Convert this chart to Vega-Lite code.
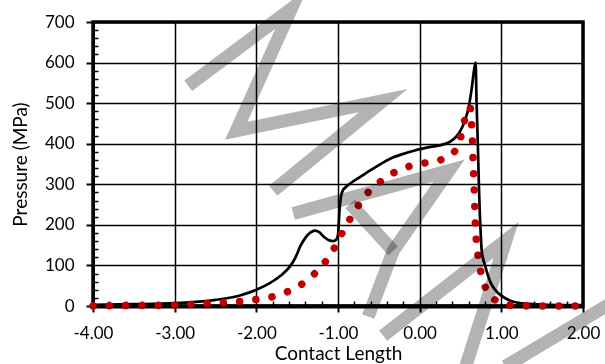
{
  "$schema": "https://vega.github.io/schema/vega-lite/v6.json",
  "autosize": {"type": "none"},
  "width": 490,
  "height": 284,
  "padding": {"left": 93, "top": 22, "right": 22, "bottom": 58},
  "background": "white",
  "config": {
    "font": "Lato",
    "view": {"stroke": "black", "strokeWidth": 3.5},
    "axis": {"labelFont": "Lato", "titleFont": "Lato", "labelColor": "black", "titleColor": "black", "titleFontWeight": "normal", "domainColor": "black", "tickColor": "black", "gridColor": "black", "labelOverlap": false, "labelFlush": false}
  },
  "datasets": {
    "simulation": [
      {"x": -4, "y": 3}, {"x": -3.5, "y": 4.5}, {"x": -3, "y": 7}, {"x": -2.5, "y": 15}, {"x": -2.2, "y": 26},
      {"x": -2, "y": 40}, {"x": -1.83, "y": 57}, {"x": -1.7, "y": 75}, {"x": -1.59, "y": 97}, {"x": -1.52, "y": 120},
      {"x": -1.46, "y": 148}, {"x": -1.4, "y": 168}, {"x": -1.34, "y": 181}, {"x": -1.28, "y": 186}, {"x": -1.23, "y": 182},
      {"x": -1.17, "y": 170}, {"x": -1.11, "y": 162}, {"x": -1.06, "y": 160}, {"x": -1.02, "y": 164}, {"x": -1.0, "y": 175},
      {"x": -0.99, "y": 205}, {"x": -0.98, "y": 240}, {"x": -0.965, "y": 268}, {"x": -0.945, "y": 283}, {"x": -0.9, "y": 294},
      {"x": -0.83, "y": 305}, {"x": -0.7, "y": 322}, {"x": -0.6, "y": 335}, {"x": -0.47, "y": 351}, {"x": -0.36, "y": 363},
      {"x": -0.2, "y": 375}, {"x": -0.05, "y": 384}, {"x": 0.1, "y": 391}, {"x": 0.3, "y": 399}, {"x": 0.38, "y": 406},
      {"x": 0.44, "y": 416}, {"x": 0.5, "y": 432}, {"x": 0.55, "y": 455}, {"x": 0.6, "y": 490}, {"x": 0.64, "y": 540},
      {"x": 0.665, "y": 580}, {"x": 0.685, "y": 600}, {"x": 0.697, "y": 500}, {"x": 0.712, "y": 400}, {"x": 0.725, "y": 300},
      {"x": 0.737, "y": 225}, {"x": 0.748, "y": 175}, {"x": 0.76, "y": 136}, {"x": 0.8, "y": 100}, {"x": 0.84, "y": 73},
      {"x": 0.87, "y": 57}, {"x": 0.92, "y": 41}, {"x": 0.97, "y": 30}, {"x": 1.05, "y": 19}, {"x": 1.11, "y": 13},
      {"x": 1.2, "y": 8}, {"x": 1.35, "y": 5}, {"x": 1.6, "y": 3}, {"x": 2, "y": 2}
    ],
    "measurement": [
      {"x": -4, "y": 0}, {"x": -3.6, "y": 1}, {"x": -3.2, "y": 1.5}, {"x": -3.0, "y": 2}, {"x": -2.8, "y": 4},
      {"x": -2.6, "y": 6}, {"x": -2.4, "y": 8}, {"x": -2.2, "y": 11}, {"x": -2.0, "y": 16}, {"x": -1.8, "y": 23},
      {"x": -1.62, "y": 35}, {"x": -1.45, "y": 53}, {"x": -1.3, "y": 77}, {"x": -1.16, "y": 108}, {"x": -1.05, "y": 141},
      {"x": -0.96, "y": 176}, {"x": -0.86, "y": 212}, {"x": -0.76, "y": 245}, {"x": -0.64, "y": 278}, {"x": -0.49, "y": 305},
      {"x": -0.33, "y": 327}, {"x": -0.15, "y": 343}, {"x": 0.05, "y": 352}, {"x": 0.24, "y": 359}, {"x": 0.42, "y": 379},
      {"x": 0.5, "y": 414}, {"x": 0.545, "y": 454}, {"x": 0.6, "y": 488}, {"x": 0.615, "y": 490}, {"x": 0.635, "y": 453},
      {"x": 0.645, "y": 413}, {"x": 0.652, "y": 372}, {"x": 0.66, "y": 332}, {"x": 0.667, "y": 292}, {"x": 0.673, "y": 252},
      {"x": 0.68, "y": 212}, {"x": 0.69, "y": 172}, {"x": 0.71, "y": 132}, {"x": 0.74, "y": 93}, {"x": 0.79, "y": 54},
      {"x": 0.89, "y": 21}, {"x": 1.06, "y": 3}, {"x": 1.27, "y": 0.5}, {"x": 1.5, "y": 0}, {"x": 2, "y": 0}
    ],
    "watermark": [
      {"stroke": 1, "i": 1, "x": -2.834, "y": 543}, {"stroke": 1, "i": 2, "x": -1.57, "y": 733},
      {"stroke": 1, "i": 3, "x": -2.246, "y": 432}, {"stroke": 1, "i": 4, "x": -0.447, "y": 506},
      {"stroke": 1, "i": 5, "x": -1.793, "y": 284},
      {"stroke": 2, "i": 1, "x": -1.548, "y": 228}, {"stroke": 2, "i": 2, "x": 0.361, "y": 334},
      {"stroke": 2, "i": 3, "x": -0.324, "y": 136}, {"stroke": 2, "i": 4, "x": -0.63, "y": -26},
      {"stroke": 3, "i": 1, "x": -0.85, "y": 252}, {"stroke": 3, "i": 2, "x": -0.324, "y": 136},
      {"stroke": 4, "i": 1, "x": -0.447, "y": -73}, {"stroke": 4, "i": 2, "x": 1.059, "y": 163},
      {"stroke": 4, "i": 3, "x": 0.556, "y": -154},
      {"stroke": 5, "i": 1, "x": 1.048, "y": -149}, {"stroke": 5, "i": 2, "x": 2.393, "y": 13}
    ]
  },
  "encoding": {
    "x": {
      "field": "x", "type": "quantitative", "title": "Contact Length",
      "scale": {"domain": [-4, 2], "nice": false, "zero": false},
      "axis": {
        "values": [-4, -3.8, -3.6, -3.4, -3.2, -3, -2.8, -2.6, -2.4, -2.2, -2, -1.8, -1.6, -1.4, -1.2, -1, -0.8, -0.6, -0.4, -0.2, 0, 0.2, 0.4, 0.6, 0.8, 1, 1.2, 1.4, 1.6, 1.8, 2],
        "labelExpr": "abs(datum.value - round(datum.value)) < 0.001 ? replace(format(datum.value, '.2f'), '\u2212', '-') : ''",
        "labelFontSize": 17, "labelPadding": 13, "titleFontSize": 19, "titlePadding": 3,
        "domainWidth": 4,
        "tickSize": {"condition": {"test": "abs(datum.value - round(datum.value)) < 0.001", "value": 6}, "value": -5},
        "tickWidth": {"condition": {"test": "abs(datum.value - round(datum.value)) < 0.001", "value": 2}, "value": 1.5},
        "gridWidth": 1.5,
        "gridOpacity": {"condition": {"test": "abs(datum.value - round(datum.value)) < 0.001", "value": 1}, "value": 0}
      }
    },
    "y": {
      "field": "y", "type": "quantitative", "title": "Pressure (MPa)",
      "scale": {"domain": [0, 700], "nice": false, "zero": false},
      "axis": {
        "values": [0, 20, 40, 60, 80, 100, 120, 140, 160, 180, 200, 220, 240, 260, 280, 300, 320, 340, 360, 380, 400, 420, 440, 460, 480, 500, 520, 540, 560, 580, 600, 620, 640, 660, 680, 700],
        "labelExpr": "datum.value % 100 == 0 ? datum.label : ''",
        "labelFontSize": 17, "labelPadding": 12, "titleFontSize": 19, "titlePadding": 14,
        "domainWidth": 3,
        "tickSize": {"condition": {"test": "datum.value % 100 == 0", "value": 7}, "value": -5},
        "tickWidth": {"condition": {"test": "datum.value % 100 == 0", "value": 2}, "value": 1.5},
        "gridWidth": 1.5,
        "gridOpacity": {"condition": {"test": "datum.value % 100 == 0", "value": 1}, "value": 0}
      }
    }
  },
  "layer": [
    {
      "data": {"name": "simulation"},
      "mark": {"type": "line", "color": "black", "strokeWidth": 2.7, "interpolate": "monotone"}
    },
    {
      "data": {"name": "measurement"},
      "mark": {"type": "line", "color": "#c00000", "strokeWidth": 7.5, "strokeCap": "round", "strokeDash": [0.01, 16.3], "interpolate": "monotone"}
    },
    {
      "data": {"name": "watermark"},
      "mark": {"type": "line", "color": "#b3b3b3", "strokeWidth": 13, "strokeCap": "butt", "strokeJoin": "miter", "strokeMiterLimit": 10, "blend": "multiply", "clip": false},
      "encoding": {
        "detail": {"field": "stroke", "type": "nominal"},
        "order": {"field": "i", "type": "quantitative"}
      }
    }
  ]
}
